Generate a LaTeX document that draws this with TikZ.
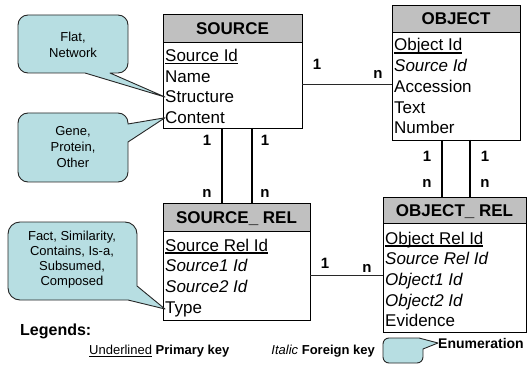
\documentclass[tikz,border=0pt]{standalone}
\usepackage{fontspec}
\setmainfont{Liberation Sans}
\definecolor{hdrgray}{RGB}{192,192,192}
\definecolor{notefill}{RGB}{183,222,226}
\definecolor{linkgray}{RGB}{40,40,40}
% primary key: text with a heavier underline
\newcommand\keyul[1]{\leavevmode\setbox0\hbox{#1}\rlap{\rule[-2.6pt]{\wd0}{1.2pt}}\box0\relax}

\tikzset{
  tblhead/.style={draw=black, line width=0.9pt, fill=hdrgray, anchor=north west,
    inner sep=0pt, outer sep=0pt, font=\fontsize{17}{20}\selectfont\bfseries,
    text height=12.2pt, text depth=0pt},
  tblbody/.style={draw=black, line width=0.9pt, fill=white, anchor=north west,
    inner sep=0pt, outer sep=0pt},
  field/.style={anchor=base west, inner sep=0pt, font=\fontsize{17}{20}\selectfont},
  fkey/.style={anchor=base west, inner sep=0pt, font=\fontsize{17}{20}\selectfont\itshape},
  card/.style={font=\fontsize{15}{18}\selectfont\bfseries, inner sep=0pt},
  hlink/.style={draw=linkgray, line width=1pt},
  vlink/.style={draw=black, line width=1.8pt},
  note/.style={draw=black!85, line width=0.9pt, fill=notefill, line join=round},
  notetext/.style={align=center, font=\fontsize{13}{16}\selectfont, inner sep=0pt},
}

\begin{document}
\begin{tikzpicture}[x=1pt, y=-1pt]
\useasboundingbox (0,0) rectangle (527,366);

% ---------- SOURCE ----------
\node[tblhead, minimum width=139, minimum height=28] (source) at (163,14) {SOURCE};
\node[tblbody, minimum width=139, minimum height=86] (sourceb) at (163,42) {};
\node[field] (sid)     at (165,61.5)  {\keyul{Source Id}};
\node[field] (sname)   at (165,82.2)  {Name};
\node[field] (sstruct) at (165,102.9) {Structure};
\node[field] (scont)   at (165,123.6) {Content};

% ---------- OBJECT ----------
\node[tblhead, minimum width=128, minimum height=27] (object) at (392,5) {OBJECT};
\node[tblbody, minimum width=128, minimum height=108] (objectb) at (392,32) {};
\node[field] (oid)  at (394,51)    {\keyul{Object Id}};
\node[fkey]  (osrc) at (394,71.7)  {Source Id};
\node[field] (oacc) at (394,92.4)  {Accession};
\node[field] (otxt) at (394,113.1) {Text};
\node[field] (onum) at (394,133.8) {Number};

% ---------- SOURCE_ REL ----------
\node[tblhead, minimum width=147, minimum height=28] (srcrel) at (163,203) {SOURCE\_ REL};
\node[tblbody, minimum width=147, minimum height=89] (srcrelb) at (163,231) {};
\node[field] (rid)   at (165,251)   {\keyul{Source Rel Id}};
\node[fkey]  (rs1)   at (165,271.7) {Source1 Id};
\node[fkey]  (rs2)   at (165,292.4) {Source2 Id};
\node[field] (rtype) at (165,313.1) {Type};

% ---------- OBJECT_ REL ----------
\node[tblhead, minimum width=143, minimum height=26] (objrel) at (383,197) {OBJECT\_ REL};
\node[tblbody, minimum width=143, minimum height=109] (objrelb) at (383,223) {};
\node[field] (orid)  at (385,244)   {\keyul{Object Rel Id}};
\node[fkey]  (orsrc) at (385,264.7) {Source Rel Id};
\node[fkey]  (oro1)  at (385,285.4) {Object1 Id};
\node[fkey]  (oro2)  at (385,306.1) {Object2 Id};
\node[field] (orev)  at (385,326.8) {Evidence};

% ---------- relationships ----------
\draw[hlink] (sourceb.east) -- (sourceb.east -| objectb.west);
\draw[hlink] (srcrelb.east) -- (srcrelb.east -| objrelb.west);
\draw[vlink] ([xshift=-10.5pt]sourceb.south) -- ([xshift=-10.5pt]sourceb.south |- srcrel.north);
\draw[vlink] ([xshift=19.5pt]sourceb.south) -- ([xshift=19.5pt]sourceb.south |- srcrel.north);
\draw[vlink] ([xshift=-14pt]objectb.south) -- ([xshift=-14pt]objectb.south |- objrel.north);
\draw[vlink] ([xshift=14pt]objectb.south) -- ([xshift=14pt]objectb.south |- objrel.north);

% cardinalities
\node[card] (c1) at (317,64)  {1};
\node[card] (c2) at (378,74)  {n};
\node[card] (c3) at (207,140) {1};
\node[card] (c4) at (265,140) {1};
\node[card] (c5) at (207,193) {n};
\node[card] (c6) at (265,193) {n};
\node[card] (c7) at (427,156) {1};
\node[card] (c8) at (485,156) {1};
\node[card] (c9) at (427,183) {n};
\node[card] (c10) at (485,183) {n};
\node[card] (c11) at (325,263) {1};
\node[card] (c12) at (367,268) {n};

% ---------- enumeration callouts ----------
\path[note] (28,15) -- (118,15) arc[start angle=-90, end angle=0, radius=10]
  -- (128,63) arc[start angle=0, end angle=90, radius=10]
  -- (110,73) -- (sstruct.west) -- (85,73)
  -- (28,73) arc[start angle=90, end angle=180, radius=10]
  -- (18,25) arc[start angle=180, end angle=270, radius=10] -- cycle;
\node[notetext] (n1) at (73,45) {Flat,\\Network};

\path[note] (28,113) -- (118,113) arc[start angle=-90, end angle=0, radius=10]
  -- (128,124) -- (scont.west) -- (128,142)
  -- (128,172) arc[start angle=0, end angle=90, radius=10]
  -- (28,182) arc[start angle=90, end angle=180, radius=10]
  -- (18,123) arc[start angle=180, end angle=270, radius=10] -- cycle;
\node[notetext] (n2) at (73,147) {Gene,\\Protein,\\Other};

\path[note] (20,222) -- (125,222) arc[start angle=-90, end angle=0, radius=12]
  -- (137,286) -- (rtype.west) -- (128,300)
  -- (20,300) arc[start angle=90, end angle=180, radius=12]
  -- (8,234) arc[start angle=180, end angle=270, radius=12] -- cycle;
\node[notetext, font=\fontsize{13}{15}\selectfont] (n3) at (72,259.5)
  {Fact, Similarity,\\Contains, Is-a,\\Subsumed,\\Composed};

% ---------- legend ----------
\node[anchor=base west, inner sep=0pt, font=\fontsize{16}{19}\selectfont\bfseries] (leg) at (20,335) {Legends:};
\node[anchor=base west, inner sep=0pt, font=\fontsize{13}{16}\selectfont] (legpk) at (89,354.5)
  {\keyul{Underlined} \textbf{Primary key}};
\node[anchor=base east, inner sep=0pt, font=\fontsize{13}{16}\selectfont] (legfk) at (375,354.5)
  {\textit{Italic} \textbf{Foreign key}};
\node[anchor=base west, inner sep=0pt, font=\fontsize{14}{17}\selectfont\bfseries] (legenum) at (438,348) {Enumeration};
\path[note] (389,338) -- (419,338) -- (legenum.west) -- (423,349)
  -- (423,357) arc[start angle=0, end angle=90, radius=6]
  -- (389,363) arc[start angle=90, end angle=180, radius=6]
  -- (383,344) arc[start angle=180, end angle=270, radius=6] -- cycle;
\end{tikzpicture}
\end{document}
